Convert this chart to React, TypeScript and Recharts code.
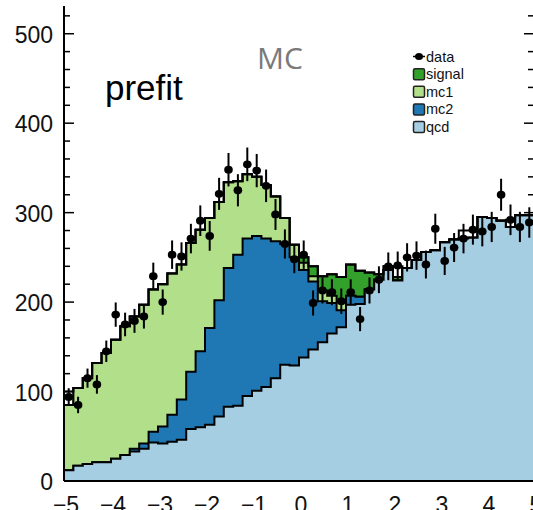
import React from 'react';
import { ComposedChart, Area, Line, Scatter, ErrorBar, XAxis, YAxis } from 'recharts';

// bin left edges (bin width 0.2)
const binEdges = [
  -5, -4.8, -4.6, -4.4, -4.2, -4, -3.8, -3.6, -3.4, -3.2,
  -3, -2.8, -2.6, -2.4, -2.2, -2, -1.8, -1.6, -1.4, -1.2,
  -1, -0.8, -0.6, -0.4, -0.2, 0, 0.2, 0.4, 0.6, 0.8,
  1, 1.2, 1.4, 1.6, 1.8, 2, 2.2, 2.4, 2.6, 2.8,
  3, 3.2, 3.4, 3.6, 3.8, 4, 4.2, 4.4, 4.6, 4.8,
];
const binWidth = 0.2;
const xUpper = 5;

const qcd = [
  12, 17, 19, 21, 21, 25, 29, 33, 36, 43,
  42, 44, 46, 58, 60, 63, 72, 83, 84, 95,
  101, 105, 115, 130, 129, 138, 147, 155, 165, 172,
  197, 198, 214, 225, 236, 224, 238, 247, 256, 258,
  267, 270, 271, 272, 295, 294, 291, 284, 297, 297,
];
const mc2 = [
  0, 0, 0, 0, 0, 0, 0, 3, 6, 12,
  19, 30, 45, 64, 85, 108, 130, 155, 169, 176,
  173, 166, 153, 135, 121, 98, 76, 46, 34, 19,
  10, 8, 0, 0, 0, 0, 0, 0, 0, 0,
  0, 0, 0, 0, 0, 0, 0, 0, 0, 0,
];
const mc1 = [
  73, 87, 96, 111, 122, 133, 144, 148, 155, 159,
  159, 158, 151, 144, 136, 123, 110, 96, 82, 72,
  66, 60, 50, 29, 14, 8, 6, 12, 8, 9,
  0, 0, 0, 0, 0, 0, 0, 0, 0, 0,
  0, 0, 0, 0, 0, 0, 0, 0, 0, 0,
];
const signal = [
  0, 0, 0, 0, 0, 0, 0, 0, 0, 0,
  0, 0, 0, 0, 0, 0, 0, 0, 0, 0,
  0, 0, 0, 0, 0, 6, 11, 16, 24, 28,
  35, 29, 19, 6, 4, 4, 0, 0, 0, 0,
  0, 0, 0, 0, 0, 0, 0, 0, 0, 0,
];
const totalOutline = [
  100, 104, 115, 132, 143, 158, 173, 184, 197, 214,
  220, 232, 242, 266, 281, 294, 312, 334, 335, 343,
  340, 331, 318, 294, 264, 250, 240, 229, 231, 228,
  242, 235, 233, 231, 240, 240, 238, 247, 256, 258,
  267, 270, 280, 280, 295, 294, 291, 292, 297, 297,
];
const dataCounts = [
  94, 85, 115, 108, 145, 186, 175, 179, 184, 229,
  200, 253, 251, 271, 291, 274, 321, 348, 325, 354,
  347, 330, 298, 265, 248, 253, 199, 213, 211, 201,
  211, 181, 213, 225, 240, 241, 250, 252, 242, 282,
  246, 261, 271, 281, 279, 284, 320, 292, 284, 289,
];
const dataErrors = [
  9.7, 9.2, 10.7, 10.4, 12, 13.6, 13.2, 13.4, 13.6, 15.1,
  14.1, 15.9, 15.8, 16.5, 17.1, 16.6, 17.9, 18.7, 18, 18.8,
  18.6, 18.2, 17.3, 16.3, 15.7, 15.9, 14.1, 14.6, 14.5, 14.2,
  14.5, 13.5, 14.6, 15, 15.5, 15.5, 15.8, 15.9, 15.6, 16.8,
  15.7, 16.2, 16.5, 16.8, 16.7, 16.9, 17.9, 17.1, 16.9, 17,
];

const xTickLabels = [-5, -4, -3, -2, -1, 0, 1, 2, 3, 4, 5];
const yTickLabels = [0, 100, 200, 300, 400, 500];
const yMax = 531;

const COLORS = {
  qcd: '#a6cee3',
  mc2: '#1f78b4',
  mc1: '#b2df8a',
  signal: '#33a02c',
};

const FONT = '"Liberation Sans", Arial, Helvetica, sans-serif';

// table for the stacked step histograms
const rows = binEdges.map((x, i) => {
  const q = qcd[i];
  const m2 = q + mc2[i];
  const m1 = m2 + mc1[i];
  const s = m1 + signal[i];
  return { x, qcdTop: q, mc2Top: m2, mc1Top: m1, sigTop: s, outline: totalOutline[i] };
});
rows.push({ ...rows[rows.length - 1], x: xUpper });

const points = binEdges.map((x, i) => ({ x: x + binWidth / 2, y: dataCounts[i], err: dataErrors[i] }));

// fill heights at the two frame edges (ticks below are hidden by the fill, as in the original)
const leftFillTop = rows[0].sigTop;
const rightFillTop = rows[rows.length - 1].sigTop;

// minor tick positions
const xMinorTicks: number[] = [];
for (let k = -25; k <= 25; k++) xMinorTicks.push(k / 5);
const yMinorTicks: number[] = [];
for (let v = 0; v <= 520; v += 20) yMinorTicks.push(v);

const isMajorX = (v: number) => Math.abs(v - Math.round(v)) < 1e-6;

const LeftTick = (props: any) => {
  const { x, y, payload } = props;
  const v = payload.value;
  const major = yTickLabels.includes(v);
  return (
    <g>
      {v > leftFillTop && (
        <line x1={x} x2={x + (major ? 10 : 6)} y1={y} y2={y} stroke="#000" strokeWidth={1.5} />
      )}
      {major && (
        <text x={x - 11} y={y + 9} textAnchor="end" fontSize={23} fontFamily={FONT} fill="#111">
          {v}
        </text>
      )}
    </g>
  );
};

const RightTick = (props: any) => {
  const { x, y, payload } = props;
  const v = payload.value;
  if (v <= rightFillTop) return <g />;
  const major = yTickLabels.includes(v);
  return <line x1={x} x2={x - (major ? 10 : 6)} y1={y} y2={y} stroke="#000" strokeWidth={1.5} />;
};

const TopTick = (props: any) => {
  const { x, y, payload } = props;
  const major = isMajorX(payload.value);
  return <line x1={x} x2={x} y1={y} y2={y + (major ? 10 : 6)} stroke="#000" strokeWidth={1.5} />;
};

const BottomTick = (props: any) => {
  const { x, y, payload } = props;
  const v = payload.value;
  const label = v < 0 ? '\u2212' + Math.abs(v) : String(v);
  return (
    <text x={x + 2} y={y + 32} textAnchor="middle" fontSize={23} fontFamily={FONT} fill="#111">
      {label}
    </text>
  );
};

const DataDot = (props: any) => {
  const { cx, cy } = props;
  if (cx == null || cy == null) return null;
  return <ellipse cx={cx} cy={cy} rx={4.3} ry={3.9} fill="#000" />;
};

const legendItems = [
  { label: 'data', kind: 'data', color: '#000' },
  { label: 'signal', kind: 'box', color: COLORS.signal },
  { label: 'mc1', kind: 'box', color: COLORS.mc1 },
  { label: 'mc2', kind: 'box', color: COLORS.mc2 },
  { label: 'qcd', kind: 'box', color: COLORS.qcd },
];

export default function App() {
  return (
    <div
      style={{
        position: 'absolute',
        left: 0,
        top: 0,
        width: 533,
        height: 510,
        overflow: 'hidden',
        background: '#fff',
      }}
    >
      <ComposedChart width={544} height={510} data={rows} margin={{ top: 6, right: 0, bottom: 0, left: 0 }}>
        <XAxis
          dataKey="x"
          type="number"
          domain={[-5, 5]}
          allowDataOverflow
          ticks={xTickLabels}
          interval={0}
          tickSize={0}
          tickMargin={0}
          tickLine={false}
          height={29}
          axisLine={{ stroke: '#000', strokeWidth: 2 }}
          tick={BottomTick}
        />
        <XAxis
          xAxisId="top"
          orientation="top"
          dataKey="x"
          type="number"
          domain={[-5, 5]}
          allowDataOverflow
          ticks={xMinorTicks}
          interval={0}
          tickSize={0}
          tickMargin={0}
          tickLine={false}
          height={0}
          axisLine={{ stroke: '#000', strokeWidth: 2 }}
          tick={TopTick}
        />
        <YAxis
          type="number"
          domain={[0, yMax]}
          allowDataOverflow
          ticks={yMinorTicks}
          interval={0}
          tickSize={0}
          tickMargin={0}
          tickLine={false}
          width={64}
          axisLine={{ stroke: '#000', strokeWidth: 2 }}
          tick={LeftTick}
        />
        <YAxis
          yAxisId="right"
          orientation="right"
          type="number"
          domain={[0, yMax]}
          allowDataOverflow
          ticks={yMinorTicks}
          interval={0}
          tickSize={0}
          tickMargin={0}
          tickLine={false}
          width={10}
          axisLine={{ stroke: '#000', strokeWidth: 2 }}
          tick={RightTick}
        />
        <Area type="stepAfter" dataKey="sigTop" fill={COLORS.signal} fillOpacity={1} stroke="#000" strokeWidth={2} isAnimationActive={false} dot={false} activeDot={false} />
        <Area type="stepAfter" dataKey="mc1Top" fill={COLORS.mc1} fillOpacity={1} stroke="#000" strokeWidth={2} isAnimationActive={false} dot={false} activeDot={false} />
        <Area type="stepAfter" dataKey="mc2Top" fill={COLORS.mc2} fillOpacity={1} stroke="#000" strokeWidth={2} isAnimationActive={false} dot={false} activeDot={false} />
        <Area type="stepAfter" dataKey="qcdTop" fill={COLORS.qcd} fillOpacity={1} stroke="#000" strokeWidth={2} isAnimationActive={false} dot={false} activeDot={false} />
        <Line type="stepAfter" dataKey="outline" stroke="#000" strokeWidth={2} dot={false} activeDot={false} isAnimationActive={false} />
        <Scatter data={points} dataKey="y" isAnimationActive={false} shape={DataDot}>
          <ErrorBar dataKey="err" direction="y" width={0} stroke="#000" strokeWidth={2} isAnimationActive={false} />
        </Scatter>
      </ComposedChart>
      <svg style={{ position: 'absolute', left: 0, top: 0, pointerEvents: 'none' }} width={533} height={510}>
        <text x={105} y={100} fontSize={35} fontFamily={FONT} fill="#000">prefit</text>
        <text x={280} y={69} textAnchor="middle" fontSize={30} fontFamily={'"Open Sans", sans-serif'} fill="#7a7a7a">MC</text>
        {legendItems.map((it, i) => {
          const cy = 56.5 + i * 17.65;
          return (
            <g key={it.label}>
              {it.kind === 'data' ? (
                <g>
                  <line x1={413} x2={425} y1={cy} y2={cy} stroke="#000" strokeWidth={1.5} />
                  <ellipse cx={419} cy={cy} rx={4} ry={3.5} fill="#000" />
                </g>
              ) : (
                <rect x={413.5} y={cy - 5.5} width={11} height={11} rx={1.5} fill={it.color} stroke="#222" strokeWidth={1.5} />
              )}
              <text x={426} y={cy + 5} fontSize={14.5} fontFamily={FONT} fill="#111">{it.label}</text>
            </g>
          );
        })}
      </svg>
    </div>
  );
}
